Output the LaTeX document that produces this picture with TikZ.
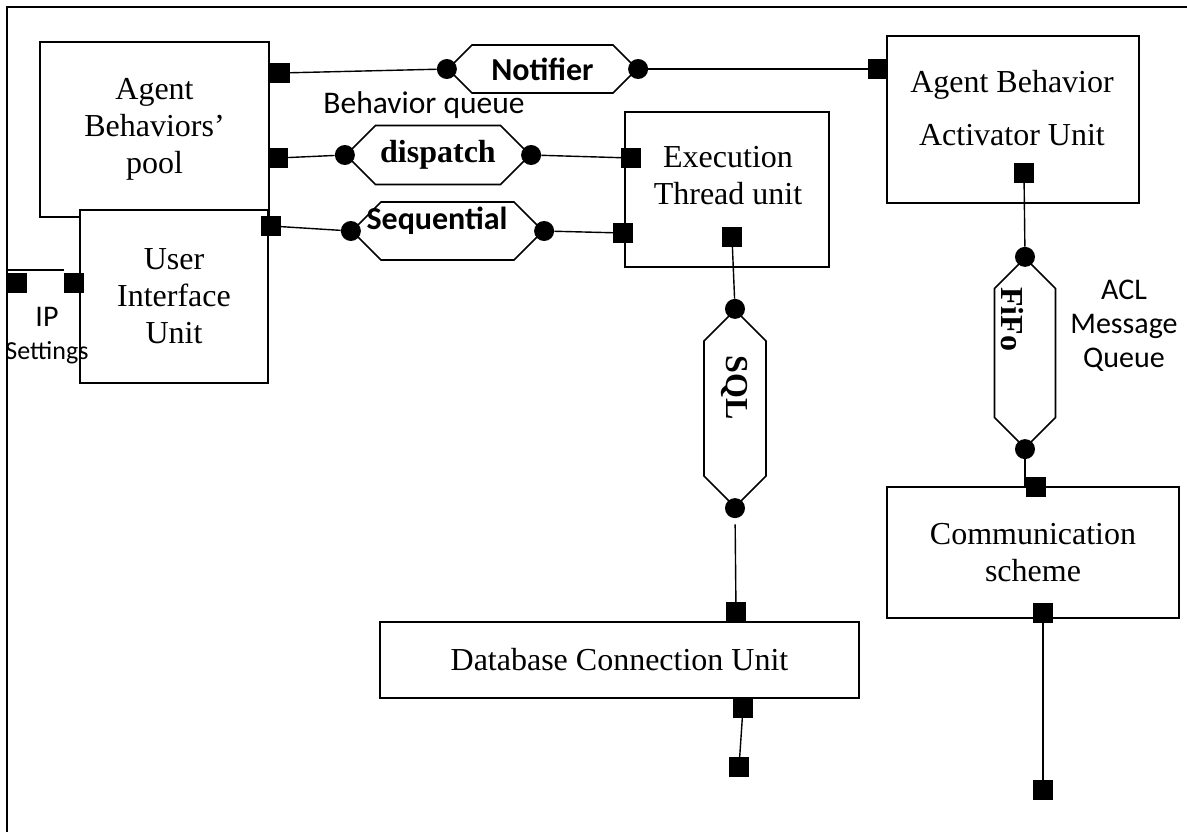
\documentclass[tikz,border=0pt]{standalone}
\usepackage{fontspec}
\setmainfont{Liberation Serif}
\newfontfamily\calibri{Carlito}
\usetikzlibrary{shapes.symbols, positioning}
\newcommand\unitfont{\fontsize{32}{37}\selectfont}

\begin{document}
\begin{tikzpicture}[x=1pt, y=-1pt,
    unit/.style={draw, line width=1.8pt, fill=white, align=center, inner sep=0pt, font=\unitfont},
    port/.style={fill=black, minimum size=20pt, inner sep=0pt},
    joint/.style={circle, fill=black, minimum size=20pt, inner sep=0pt},
    link/.style={draw, line width=1.6pt, fill=white, signal, signal to=west and east, signal pointer angle=90, inner sep=0pt},
    wire/.style={line width=1.4pt},
    tag/.style={font=\calibri\fontsize{30}{34}\selectfont, align=center},
    tagbold/.style={font=\calibri\bfseries\fontsize{32}{36}\selectfont},
    serifbold/.style={font=\bfseries\fontsize{32}{36}\selectfont},
]

% Frame
\useasboundingbox (0,0) rectangle (1187,835);
\draw[line width=2.5pt] (7,832) -- (7,7) -- (1187,7);

% --- Units ---
\node[unit, minimum width=229, minimum height=175] (pool) at (154.5,129.5) {Agent\\Behaviors’\\pool};
\node[unit, minimum width=188, minimum height=173] (ui) at (174,296.5) {User\\Interface\\Unit};
\node[unit, minimum width=204, minimum height=155] (exec) at (727,189.5) {};
\node[font=\unitfont, align=center] (exectxt) at (728,176) {Execution\\Thread unit};
\node[unit, minimum width=252, minimum height=167] (act) at (1013,119.5) {};
\node[font=\fontsize{32}{53}\selectfont, align=center] (acttxt) at (1012,108) {Agent Behavior\\Activator Unit};
\node[unit, minimum width=292, minimum height=131] (comm) at (1033,552.5) {Communication\\scheme};
\node[unit, minimum width=479, minimum height=76] (db) at (619.5,660) {Database Connection Unit};

% --- Ports ---
\node[port] (poolP1) at (280,73) {};
\node[port] (poolP2) at (278,158) {};
\node[port] (uiR) at (271,226) {};
\node[port] (uiL) at (74,283) {};
\node[port] (ipP) at (17,283) {};
\node[port] (execP1) at (631,158) {};
\node[port] (execP2) at (623,233) {};
\node[port] (execP3) at (732,237) {};
\node[port] (actL) at (878,69) {};
\node[port] (actB) at (1024,173) {};
\node[port] (dbT) at (736,612) {};
\node[port] (dbB) at (743,708) {};
\node[port] (dbEnd) at (739,767) {};
\node[port] (comT) at (1036,487) {};
\node[port] (comB) at (1043,613) {};
\node[port] (comEnd) at (1043,790) {};

% --- Links ---
\node[link, minimum width=189, minimum height=48, tagbold] (notif) at (542.5,69) {Notifier};
\node[joint] (notifL) at (notif.west) {};
\node[joint] (notifR) at (notif.east) {};

\node[link, minimum width=184, minimum height=59, serifbold] (disp) at (438,155) {dispatch};
\node[joint] (dispL) at (disp.west) {};
\node[joint] (dispR) at (disp.east) {};

\node[link, minimum width=191, minimum height=58] (seq) at (447.5,231) {};
\node[tagbold] (seqtxt) at (437,221) {Sequential};
\node[joint] (seqL) at (seq.west) {};
\node[joint] (seqR) at (seq.east) {};

\node[link, rotate=-90, minimum width=197, minimum height=62] (sql) at (735,408.5) {};
\node[serifbold, rotate=-90] (sqltxt) at (734,388) {SQL};
\node[joint] (sqlT) at (sql.west) {};
\node[joint] (sqlB) at (sql.east) {};

\node[link, rotate=-90, minimum width=190, minimum height=61] (fifo) at (1025,353) {};
\node[serifbold, rotate=-90] (fifotxt) at (1012,319) {FiFo};
\node[joint] (fifoT) at (fifo.west) {};
\node[joint] (fifoB) at (fifo.east) {};

% --- Wires ---
\draw[wire] (poolP1) -- (notifL);
\draw[wire] (notifR) -- (actL);
\draw[wire] (poolP2) -- (dispL);
\draw[wire] (dispR) -- (execP1);
\draw[wire] (uiR) -- (seqL);
\draw[wire] (seqR) -- (execP2);
\draw[wire] (execP3) -- (sqlT);
\draw[wire, shorten <=6pt] (sqlB) -- (dbT);
\draw[wire] (dbB) -- (dbEnd);
\draw[wire] (actB) -- (fifoT);
\draw[wire] (fifoB) -- (fifoB |- comT);
\draw[wire] (comB) -- (comEnd);
\draw[wire] ([yshift=3pt]ipP.north west) -- ([yshift=3pt]uiL.north west);

% --- Labels ---
\node[tag, font=\calibri\fontsize{31.5}{34}\selectfont] (bq) at (424,105) {Behavior queue};
\node[tag] (ip) at (47,317) {IP};
\node[tag, font=\calibri\fontsize{26}{30}\selectfont] (ipset) at (47,353) {Settings};
\node[tag] (acl) at (1124,326) {ACL\\Message\\Queue};

\end{tikzpicture}
\end{document}
